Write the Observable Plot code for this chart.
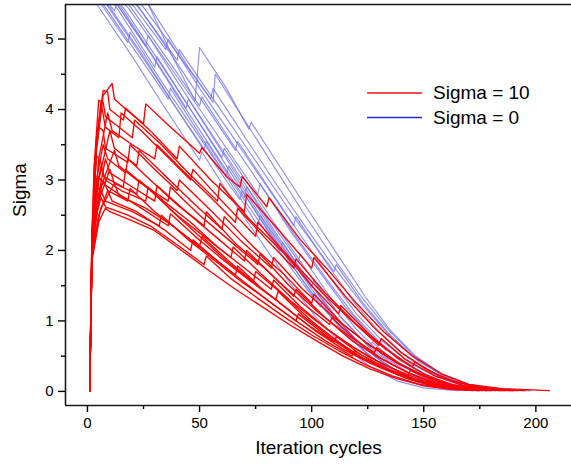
<!DOCTYPE html>
<html><head><meta charset="utf-8">
<script src="https://cdn.jsdelivr.net/npm/d3@7"></script>
<script src="https://cdn.jsdelivr.net/npm/@observablehq/plot@0.6"></script>
<style>body{margin:0;background:#fff;} #chart{position:relative;width:571px;height:466px;}</style>
</head><body><div id="chart"></div>
<script>
// ---- Data ----
const xTicks = [0, 50, 100, 150, 200];
const xMinorTicks = [25, 75, 125, 175];
const yTicks = [0, 1, 2, 3, 4, 5];
const yMinorTicks = [0.5, 1.5, 2.5, 3.5, 4.5];
const xDomain = [-9.8, 215.9];
const yDomain = [-0.2, 5.49];
const legendLabels = ["Sigma = 10", "Sigma = 0"];

// Sigma = 10 runs: [iteration, sigma]
const sigma10Runs = [
 [[1,0],[2,2.2],[4,3.4],[7,4.2],[11,4.37],[12,4.15],[18,3.98],[25,3.8],[26,4.08],[36,3.78],[50,3.38],[51,3.46],[62,3.05],[68,2.9],[69,3.05],[80,2.62],[81,2.75],[95,2.15],[108,1.7],[120,1.25],[132,0.85],[145,0.5],[158,0.25],[170,0.1],[185,0.04],[206,0.01]],
 [[1,0],[2,2.0],[4,3.6],[7,4.27],[9,4.25],[10,4.0],[16,3.85],[17,4.02],[28,3.7],[40,3.3],[41,3.48],[55,3.0],[70,2.55],[71,2.8],[85,2.3],[100,1.75],[101,1.9],[115,1.35],[128,0.9],[140,0.55],[152,0.3],[165,0.12],[180,0.04],[195,0.01]],
 [[1,0],[2,2.1],[3,3.2],[5,4.13],[7,4.1],[8,3.9],[20,3.6],[21,3.85],[33,3.5],[45,3.1],[58,2.7],[59,2.95],[72,2.45],[88,1.95],[100,1.5],[112,1.1],[113,1.22],[126,0.8],[138,0.48],[150,0.25],[162,0.1],[175,0.03],[190,0.01]],
 [[1,0],[2,1.9],[4,3.5],[6,4.1],[8,3.75],[14,3.6],[15,3.95],[24,3.7],[35,3.35],[46,3.0],[47,3.15],[60,2.7],[75,2.2],[76,2.4],[90,1.9],[104,1.42],[118,1.0],[130,0.65],[131,0.75],[142,0.45],[155,0.22],[168,0.08],[182,0.02]],
 [[1,0],[2,2.0],[5,3.3],[9,3.95],[11,3.7],[20,3.5],[30,3.3],[31,3.5],[42,3.15],[55,2.75],[66,2.4],[67,2.6],[80,2.15],[92,1.75],[93,1.88],[106,1.4],[120,0.95],[133,0.6],[145,0.35],[146,0.42],[158,0.2],[172,0.07],[188,0.02]],
 [[1,0],[2,2.2],[3,3.2],[5,3.75],[7,3.7],[8,3.45],[18,3.25],[19,3.5],[30,3.15],[40,2.85],[41,3.0],[54,2.6],[68,2.15],[82,1.75],[83,1.9],[96,1.45],[110,1.05],[124,0.7],[136,0.45],[148,0.25],[160,0.1],[175,0.03],[192,0.01]],
 [[1,0],[2,1.9],[5,3.0],[10,3.7],[12,3.45],[22,3.2],[23,3.42],[35,3.05],[48,2.65],[60,2.3],[61,2.48],[74,2.05],[88,1.65],[100,1.25],[101,1.38],[114,0.95],[126,0.65],[138,0.4],[150,0.22],[162,0.09],[178,0.02]],
 [[1,0],[2,2.0],[4,3.0],[7,3.5],[9,3.3],[17,3.1],[18,3.3],[28,3.0],[40,2.65],[52,2.35],[53,2.55],[66,2.1],[80,1.72],[92,1.35],[93,1.45],[106,1.05],[118,0.72],[130,0.48],[142,0.28],[155,0.12],[168,0.04],[184,0.01]],
 [[1,0],[2,2.1],[6,2.9],[12,3.42],[14,3.2],[24,2.95],[36,2.7],[37,2.9],[50,2.5],[63,2.15],[76,1.8],[77,1.95],[90,1.5],[103,1.12],[116,0.8],[128,0.55],[129,0.62],[140,0.38],[152,0.2],[165,0.07],[180,0.02]],
 [[1,0],[2,2.3],[4,3.35],[6,3.25],[7,3.05],[16,2.9],[17,3.15],[28,2.85],[40,2.5],[52,2.2],[64,1.9],[65,2.05],[78,1.65],[90,1.3],[102,1.0],[114,0.72],[126,0.48],[138,0.3],[150,0.15],[163,0.06],[178,0.01]],
 [[1,0],[2,1.9],[5,2.8],[8,3.3],[10,3.1],[20,2.9],[30,2.7],[31,2.92],[44,2.55],[57,2.2],[70,1.85],[71,2.0],[84,1.6],[96,1.25],[108,0.95],[109,1.05],[120,0.72],[132,0.45],[144,0.25],[156,0.1],[170,0.03],[186,0.01]],
 [[1,0],[2,2.0],[4,2.8],[6,3.2],[8,3.0],[15,2.85],[26,2.7],[27,2.9],[38,2.55],[50,2.2],[62,1.85],[74,1.55],[75,1.7],[88,1.35],[100,1.0],[112,0.7],[124,0.45],[136,0.28],[148,0.15],[160,0.06],[174,0.01]],
 [[1,0],[2,2.0],[5,2.7],[10,3.15],[12,2.95],[22,2.8],[23,3.0],[34,2.7],[46,2.4],[58,2.05],[70,1.75],[82,1.45],[83,1.58],[95,1.2],[107,0.88],[119,0.62],[131,0.4],[143,0.22],[144,0.3],[155,0.14],[168,0.05],[182,0.01]],
 [[1,0],[2,2.2],[3,2.7],[5,3.05],[7,2.95],[14,2.8],[24,2.6],[36,2.35],[37,2.52],[48,2.2],[60,1.88],[72,1.58],[84,1.3],[85,1.42],[97,1.05],[108,0.78],[120,0.52],[132,0.32],[144,0.17],[156,0.07],[170,0.02]],
 [[1,0],[2,1.95],[4,2.6],[7,3.0],[9,2.85],[18,2.7],[19,2.88],[30,2.55],[42,2.25],[54,1.95],[66,1.65],[67,1.78],[78,1.45],[90,1.15],[102,0.85],[114,0.6],[126,0.4],[138,0.24],[150,0.12],[162,0.05],[176,0.01]],
 [[1,0],[2,2.0],[6,2.6],[12,2.95],[14,2.78],[26,2.6],[38,2.35],[50,2.05],[51,2.2],[62,1.88],[74,1.55],[86,1.25],[98,0.95],[110,0.7],[111,0.78],[122,0.52],[134,0.32],[146,0.17],[158,0.07],[172,0.02]],
 [[1,0],[2,2.2],[4,2.9],[6,2.85],[8,2.7],[20,2.55],[32,2.35],[33,2.5],[45,2.15],[57,1.85],[69,1.55],[81,1.28],[93,1.0],[94,1.1],[106,0.8],[118,0.55],[130,0.35],[142,0.19],[154,0.08],[166,0.02]],
 [[1,0],[2,1.9],[5,2.5],[9,2.85],[11,2.7],[22,2.55],[34,2.3],[46,2.0],[47,2.15],[58,1.85],[70,1.55],[82,1.25],[94,0.98],[106,0.72],[118,0.5],[119,0.58],[130,0.36],[142,0.2],[154,0.09],[166,0.03],[180,0.01]],
 [[1,0],[2,2.0],[4,2.5],[6,2.75],[8,2.62],[18,2.5],[28,2.35],[40,2.08],[52,1.8],[53,1.92],[64,1.6],[76,1.32],[88,1.05],[100,0.8],[112,0.58],[124,0.38],[136,0.22],[148,0.1],[160,0.04],[172,0.01]],
 [[1,0],[2,1.85],[5,2.4],[8,2.6],[10,2.55],[20,2.42],[30,2.28],[42,2.0],[54,1.72],[66,1.45],[78,1.2],[90,0.95],[102,0.72],[114,0.5],[126,0.32],[138,0.18],[150,0.08],[162,0.03],[175,0.01]]
];

// Sigma = 0 runs: [iteration, sigma] (start above the visible range)
const sigma0Runs = [
 [[0,5.7],[4,5.5],[20,4.75],[35,4.0],[50,3.28],[51,3.4],[65,2.7],[78,2.1],[90,1.55],[102,1.05],[114,0.65],[126,0.35],[138,0.15],[150,0.05],[165,0.01]],
 [[0,5.8],[6,5.5],[18,4.95],[19,5.1],[34,4.35],[48,3.7],[62,3.05],[63,3.2],[76,2.55],[88,2.0],[100,1.45],[112,0.95],[124,0.55],[136,0.28],[148,0.12],[160,0.04],[175,0.01]],
 [[2,5.7],[8,5.45],[22,4.8],[36,4.15],[37,4.3],[50,3.65],[64,2.95],[76,2.35],[77,2.5],[90,1.85],[102,1.3],[114,0.85],[126,0.5],[138,0.25],[150,0.1],[162,0.03],[178,0.01]],
 [[3,5.75],[10,5.45],[24,4.8],[38,4.1],[52,3.42],[53,3.55],[66,2.9],[80,2.25],[92,1.7],[104,1.2],[105,1.3],[116,0.85],[128,0.5],[140,0.25],[152,0.1],[165,0.03],[180,0.01]],
 [[5,5.7],[12,5.4],[13,5.5],[28,4.8],[42,4.1],[56,3.42],[70,2.75],[71,2.9],[84,2.25],[96,1.68],[108,1.15],[120,0.72],[132,0.4],[144,0.2],[156,0.08],[170,0.02]],
 [[6,5.75],[14,5.4],[30,4.6],[31,4.75],[45,4.05],[60,3.3],[74,2.6],[86,2.0],[87,2.12],[100,1.5],[112,1.0],[124,0.6],[136,0.32],[148,0.15],[160,0.06],[174,0.02],[188,0.01]],
 [[8,5.7],[15,5.45],[30,4.72],[44,4.02],[45,4.15],[60,3.4],[74,2.7],[88,2.02],[100,1.48],[101,1.58],[113,1.05],[125,0.65],[137,0.36],[149,0.17],[161,0.07],[175,0.02]],
 [[9,5.75],[17,5.4],[32,4.68],[46,4.0],[60,3.32],[61,3.45],[75,2.78],[89,2.12],[102,1.52],[114,1.02],[126,0.62],[127,0.7],[139,0.38],[151,0.18],[163,0.07],[178,0.02]],
 [[10,5.7],[18,5.45],[33,4.78],[48,4.1],[62,3.45],[76,2.8],[77,2.95],[90,2.3],[103,1.72],[115,1.2],[127,0.78],[139,0.45],[151,0.22],[163,0.09],[176,0.03],[190,0.01]],
 [[12,5.75],[20,5.42],[36,4.7],[50,4.05],[51,4.18],[65,3.5],[80,2.8],[94,2.15],[107,1.58],[119,1.08],[131,0.68],[143,0.38],[155,0.18],[167,0.07],[180,0.02]],
 [[13,5.7],[21,5.45],[35,4.85],[36,5.0],[50,4.3],[64,3.65],[78,3.0],[92,2.35],[93,2.48],[106,1.85],[118,1.3],[130,0.85],[142,0.5],[154,0.25],[166,0.1],[180,0.03],[194,0.01]],
 [[15,5.75],[23,5.45],[38,4.75],[52,4.08],[66,3.42],[67,3.55],[81,2.88],[95,2.22],[108,1.62],[120,1.1],[132,0.7],[144,0.4],[156,0.2],[168,0.08],[182,0.02]],
 [[16,5.7],[24,5.4],[40,4.7],[41,4.85],[55,4.2],[69,3.55],[83,2.9],[96,2.3],[110,1.7],[111,1.8],[123,1.25],[135,0.8],[147,0.45],[159,0.22],[171,0.09],[185,0.02]],
 [[18,5.75],[25,5.45],[40,4.8],[55,4.15],[56,4.3],[70,3.62],[84,2.95],[98,2.3],[111,1.72],[124,1.18],[136,0.75],[148,0.42],[160,0.2],[172,0.08],[186,0.02],[198,0.01]],
 [[20,5.8],[27,5.5],[38,4.75],[48,4.12],[50,4.88],[62,4.3],[72,3.72],[73,3.82],[86,3.18],[100,2.5],[112,1.92],[124,1.34],[135,0.87],[146,0.51],[158,0.25],[170,0.1],[184,0.03],[197,0.01]],
 [[22,5.75],[28,5.45],[45,4.6],[56,4.1],[57,4.5],[70,3.85],[84,3.15],[98,2.45],[110,1.88],[122,1.35],[134,0.88],[146,0.5],[158,0.24],[170,0.1],[184,0.03]],
 [[7,5.8],[13,5.5],[26,4.9],[27,5.05],[40,4.4],[54,3.72],[68,3.05],[82,2.4],[94,1.85],[95,1.95],[108,1.35],[120,0.88],[132,0.5],[144,0.25],[156,0.1],[170,0.03],[185,0.01]],
 [[4,5.7],[10,5.42],[25,4.72],[40,4.0],[54,3.35],[68,2.72],[69,2.85],[82,2.22],[95,1.62],[107,1.12],[119,0.7],[131,0.38],[143,0.18],[155,0.07],[168,0.02]]
];

const toRows = runs => runs.flatMap((run, i) => run.map(([x, y]) => ({run: i, x, y})));
const redRows = toRows(sigma10Runs);
const blueRows = toRows(sigma0Runs);

const font = "'Liberation Sans', Arial, Helvetica, sans-serif";

const chart = Plot.plot({
  width: 571, height: 466,
  marginLeft: 65, marginRight: 0, marginTop: 4, marginBottom: 61,
  x: {domain: xDomain},
  y: {domain: yDomain},
  style: {fontFamily: font, fontSize: "15px", color: "#000", background: "#fff", overflow: "visible"},
  marks: [
    Plot.line(blueRows, {x: "x", y: "y", z: "run", stroke: "#7474ee", strokeOpacity: 0.8, strokeWidth: 1.15, clip: true}),
    Plot.line(redRows, {x: "x", y: "y", z: "run", stroke: "#ff0000", strokeWidth: 1.35, clip: true}),
    Plot.ruleX([xDomain[0]], {stroke: "#1a1a1a", strokeWidth: 1.6}),
    Plot.ruleY([yDomain[0], yDomain[1]], {stroke: "#1a1a1a", strokeWidth: 1.6}),
    Plot.axisX(xTicks, {tickSize: 7, tickPadding: 5, fontSize: 15, strokeWidth: 1.4, tickFormat: d => String(d), label: null}),
    Plot.axisX(xMinorTicks, {tickSize: 4, tickFormat: () => "", strokeWidth: 1.4, label: null}),
    Plot.axisY(yTicks, {tickSize: 7, tickPadding: 5, fontSize: 15, strokeWidth: 1.4, tickFormat: d => String(d), label: null}),
    Plot.axisY(yMinorTicks, {tickSize: 4, tickFormat: () => "", strokeWidth: 1.4, label: null}),
    Plot.text(["Iteration cycles"], {text: d => d, frameAnchor: "bottom", dy: 48, fontSize: 19}),
    Plot.text(["Sigma"], {text: d => d, frameAnchor: "left", dx: -46, dy: 12, rotate: -90, fontSize: 19})
  ]
});
document.getElementById("chart").appendChild(chart);

// Legend (inside the plot, top right)
const svg = d3.select(chart);
const lg = svg.append("g").attr("font-family", font).attr("font-size", 19).attr("text-anchor", "start");
const legendColors = ["#e8161c", "#2b2bd6"];
legendLabels.forEach((label, i) => {
  const yy = 93 + i * 24.5;
  lg.append("line").attr("x1", 367).attr("x2", 422).attr("y1", yy).attr("y2", yy)
    .attr("stroke", legendColors[i]).attr("stroke-width", 1.4);
  lg.append("text").attr("x", 433).attr("y", yy + 6).attr("fill", "#000").attr("text-anchor", "start").text(label);
});
</script></body></html>
